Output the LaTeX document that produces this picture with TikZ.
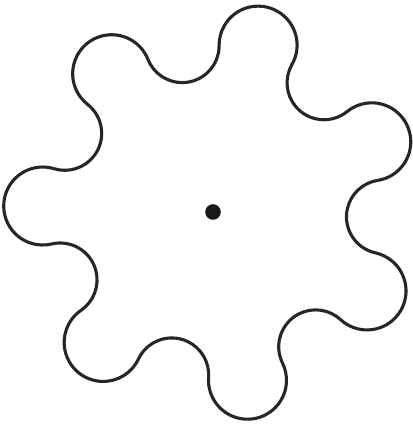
\documentclass[tikz,border=0pt]{standalone}
\usepackage{tikz}
\usetikzlibrary{calc}

\begin{document}
\begin{tikzpicture}[
    x=1pt, y=1pt,
    outline/.style={line width=3.1pt, draw=black!85, line join=round},
    hubdot/.style={fill=black!90}
]
\useasboundingbox (0,0) rectangle (412,425);
\coordinate (mid) at (214.5,213.5);
\coordinate (hub) at (213,213);

% seven round lobes joined by hollow arcs
\draw[outline] ($(mid)+(23.9:172pt)+(23.9-105.1:39pt)$)
  \foreach \k in {0,...,6} {
    arc[start angle={23.9+\k*360/7-105.1}, end angle={23.9+\k*360/7+105.1}, radius=39pt]
    arc[start angle={23.9+\k*360/7-74.9}, end angle={23.9+\k*360/7-233.67}, radius=36.9pt]
  } -- cycle;

\fill[hubdot] (hub) circle (7.8pt);
\end{tikzpicture}
\end{document}
